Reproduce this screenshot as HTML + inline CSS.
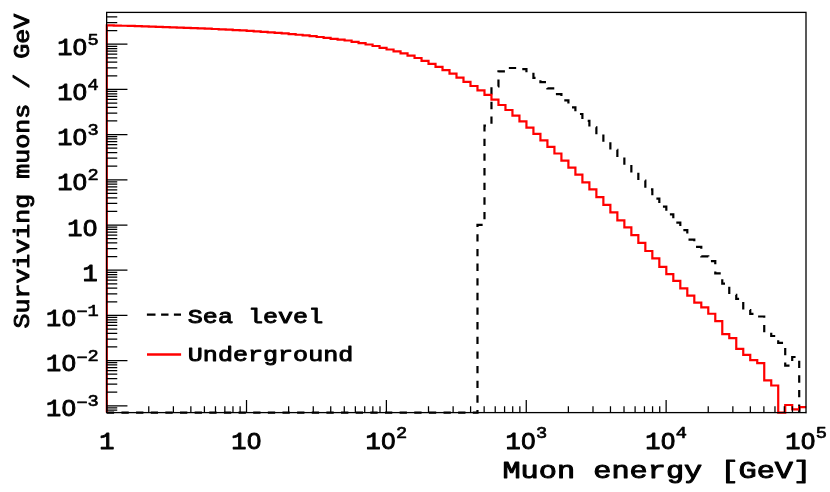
<!DOCTYPE html>
<html><head><meta charset="utf-8"><title>Muon energy spectrum</title>
<style>
html,body{margin:0;padding:0;background:#fff;}
body{width:830px;height:492px;overflow:hidden;}
svg{display:block;}
text{font-family:"Liberation Mono",monospace;font-weight:normal;fill:#000;stroke:#000;stroke-linejoin:round;vector-effect:non-scaling-stroke;}
#w{will-change:transform;width:830px;height:492px;}
</style></head><body>
<div id="w"><svg width="830" height="492" viewBox="0 0 830 492">
<rect x="0" y="0" width="830" height="492" fill="#fff"/>
<path d="M106.80,412.60L106.80,412.60L113.79,412.60L113.79,412.60L120.79,412.60L120.79,412.60L127.78,412.60L127.78,412.60L134.78,412.60L134.78,412.60L141.77,412.60L141.77,412.60L148.76,412.60L148.76,412.60L155.76,412.60L155.76,412.60L162.75,412.60L162.75,412.60L169.75,412.60L169.75,412.60L176.74,412.60L176.74,412.60L183.73,412.60L183.73,412.60L190.73,412.60L190.73,412.60L197.72,412.60L197.72,412.60L204.72,412.60L204.72,412.60L211.71,412.60L211.71,412.60L218.70,412.60L218.70,412.60L225.70,412.60L225.70,412.60L232.69,412.60L232.69,412.60L239.69,412.60L239.69,412.60L246.68,412.60L246.68,412.60L253.67,412.60L253.67,412.60L260.67,412.60L260.67,412.60L267.66,412.60L267.66,412.60L274.66,412.60L274.66,412.60L281.65,412.60L281.65,412.60L288.64,412.60L288.64,412.60L295.64,412.60L295.64,412.60L302.63,412.60L302.63,412.60L309.63,412.60L309.63,412.60L316.62,412.60L316.62,412.60L323.61,412.60L323.61,412.60L330.61,412.60L330.61,412.60L337.60,412.60L337.60,412.60L344.60,412.60L344.60,412.60L351.59,412.60L351.59,412.60L358.58,412.60L358.58,412.60L365.58,412.60L365.58,412.60L372.57,412.60L372.57,412.60L379.57,412.60L379.57,412.60L386.56,412.60L386.56,412.60L393.55,412.60L393.55,412.60L400.55,412.60L400.55,412.60L407.54,412.60L407.54,412.60L414.54,412.60L414.54,412.60L421.53,412.60L421.53,412.60L428.52,412.60L428.52,412.60L435.52,412.60L435.52,412.60L442.51,412.60L442.51,412.60L449.51,412.60L449.51,412.60L456.50,412.60L456.50,412.60L463.49,412.60L463.49,412.60L470.49,412.60L470.49,412.60L477.48,412.60L477.48,224.80L484.48,224.80L484.48,125.60L491.47,125.60L491.47,86.40L498.46,86.40L498.46,71.40L505.46,71.40L505.46,68.00L512.45,68.00L512.45,68.00L519.45,68.00L519.45,69.20L526.44,69.20L526.44,72.50L533.43,72.50L533.43,77.90L540.43,77.90L540.43,82.10L547.42,82.10L547.42,88.45L554.42,88.45L554.42,94.15L561.41,94.15L561.41,100.40L568.40,100.40L568.40,107.30L575.40,107.30L575.40,114.00L582.39,114.00L582.39,120.90L589.39,120.90L589.39,127.30L596.38,127.30L596.38,134.25L603.37,134.25L603.37,141.90L610.37,141.90L610.37,149.85L617.36,149.85L617.36,157.40L624.36,157.40L624.36,164.90L631.35,164.90L631.35,172.70L638.34,172.70L638.34,180.60L645.34,180.60L645.34,189.40L652.33,189.40L652.33,198.60L659.33,198.60L659.33,206.70L666.32,206.70L666.32,214.40L673.31,214.40L673.31,222.60L680.31,222.60L680.31,230.20L687.30,230.20L687.30,239.70L694.30,239.70L694.30,246.80L701.29,246.80L701.29,256.40L708.28,256.40L708.28,261.20L715.28,261.20L715.28,273.35L722.27,273.35L722.27,283.70L729.27,283.70L729.27,294.90L736.26,294.90L736.26,298.90L743.25,298.90L743.25,310.10L750.25,310.10L750.25,313.80L757.24,313.80L757.24,316.50L764.24,316.50L764.24,332.50L771.23,332.50L771.23,336.00L778.22,336.00L778.22,342.80L785.22,342.80L785.22,365.60L792.21,365.60L792.21,357.00L799.21,357.00L799.21,412.60L806.20,412.60" fill="none" stroke="#000" stroke-width="2.2" stroke-dasharray="7.32 7.32" stroke-linejoin="miter"/>
<path d="M106.80,412.60L106.80,25.37L113.79,25.37L113.79,25.56L120.79,25.56L120.79,25.76L127.78,25.76L127.78,25.96L134.78,25.96L134.78,26.17L141.77,26.17L141.77,26.38L148.76,26.38L148.76,26.60L155.76,26.60L155.76,26.83L162.75,26.83L162.75,27.06L169.75,27.06L169.75,27.31L176.74,27.31L176.74,27.56L183.73,27.56L183.73,27.82L190.73,27.82L190.73,28.10L197.72,28.10L197.72,28.38L204.72,28.38L204.72,28.68L211.71,28.68L211.71,29.00L218.70,29.00L218.70,29.34L225.70,29.34L225.70,29.69L232.69,29.69L232.69,30.06L239.69,30.06L239.69,30.46L246.68,30.46L246.68,30.88L253.67,30.88L253.67,31.33L260.67,31.33L260.67,31.81L267.66,31.81L267.66,32.32L274.66,32.32L274.66,32.87L281.65,32.87L281.65,33.45L288.64,33.45L288.64,34.07L295.64,34.07L295.64,34.73L302.63,34.73L302.63,35.44L309.63,35.44L309.63,36.19L316.62,36.19L316.62,37.00L323.61,37.00L323.61,37.86L330.61,37.86L330.61,38.78L337.60,38.78L337.60,39.70L344.60,39.70L344.60,40.50L351.59,40.50L351.59,41.90L358.58,41.90L358.58,43.10L365.58,43.10L365.58,44.50L372.57,44.50L372.57,46.00L379.57,46.00L379.57,47.80L386.56,47.80L386.56,49.50L393.55,49.50L393.55,51.40L400.55,51.40L400.55,53.40L407.54,53.40L407.54,55.70L414.54,55.70L414.54,58.00L421.53,58.00L421.53,60.80L428.52,60.80L428.52,63.80L435.52,63.80L435.52,66.80L442.51,66.80L442.51,70.10L449.51,70.10L449.51,73.60L456.50,73.60L456.50,77.60L463.49,77.60L463.49,81.80L470.49,81.80L470.49,86.00L477.48,86.00L477.48,90.30L484.48,90.30L484.48,94.90L491.47,94.90L491.47,99.60L498.46,99.60L498.46,105.00L505.46,105.00L505.46,110.00L512.45,110.00L512.45,115.60L519.45,115.60L519.45,121.30L526.44,121.30L526.44,127.60L533.43,127.60L533.43,133.90L540.43,133.90L540.43,140.30L547.42,140.30L547.42,146.80L554.42,146.80L554.42,153.50L561.41,153.50L561.41,160.70L568.40,160.70L568.40,167.70L575.40,167.70L575.40,174.70L582.39,174.70L582.39,182.30L589.39,182.30L589.39,189.45L596.38,189.45L596.38,197.10L603.37,197.10L603.37,204.80L610.37,204.80L610.37,212.40L617.36,212.40L617.36,220.40L624.36,220.40L624.36,227.45L631.35,227.45L631.35,235.15L638.34,235.15L638.34,242.80L645.34,242.80L645.34,251.00L652.33,251.00L652.33,258.40L659.33,258.40L659.33,266.85L666.32,266.85L666.32,274.05L673.31,274.05L673.31,280.80L680.31,280.80L680.31,288.40L687.30,288.40L687.30,295.60L694.30,295.60L694.30,302.60L701.29,302.60L701.29,307.45L708.28,307.45L708.28,313.75L715.28,313.75L715.28,321.10L722.27,321.10L722.27,334.10L729.27,334.10L729.27,338.10L736.26,338.10L736.26,348.80L743.25,348.80L743.25,354.95L750.25,354.95L750.25,360.10L757.24,360.10L757.24,363.15L764.24,363.15L764.24,380.40L771.23,380.40L771.23,385.50L778.22,385.50L778.22,412.60L785.22,412.60L785.22,405.00L792.21,405.00L792.21,409.45L799.21,409.45L799.21,407.20L806.20,407.20" fill="none" stroke="#f00" stroke-width="2.2" stroke-linejoin="miter"/>
<rect x="106.65" y="12.4" width="699.35" height="400.20000000000005" fill="none" stroke="#000" stroke-width="1.3"/>
<path d="M106.65,412.6V400.10M148.76,412.6V406.30M173.38,412.6V406.30M190.86,412.6V406.30M204.41,412.6V406.30M215.49,412.6V406.30M224.85,412.6V406.30M232.97,412.6V406.30M240.12,412.6V406.30M246.52,412.6V400.10M288.63,412.6V406.30M313.25,412.6V406.30M330.73,412.6V406.30M344.28,412.6V406.30M355.36,412.6V406.30M364.72,412.6V406.30M372.84,412.6V406.30M379.99,412.6V406.30M386.39,412.6V400.10M428.50,412.6V406.30M453.12,412.6V406.30M470.60,412.6V406.30M484.15,412.6V406.30M495.23,412.6V406.30M504.59,412.6V406.30M512.71,412.6V406.30M519.86,412.6V406.30M526.26,412.6V400.10M568.37,412.6V406.30M592.99,412.6V406.30M610.47,412.6V406.30M624.02,412.6V406.30M635.10,412.6V406.30M644.46,412.6V406.30M652.58,412.6V406.30M659.73,412.6V406.30M666.13,412.6V400.10M708.24,412.6V406.30M732.86,412.6V406.30M750.34,412.6V406.30M763.89,412.6V406.30M774.97,412.6V406.30M784.33,412.6V406.30M792.45,412.6V406.30M799.60,412.6V406.30M106.65,405.80H127.45M106.65,360.60H127.45M106.65,315.40H127.45M106.65,270.20H127.45M106.65,225.00H127.45M106.65,179.80H127.45M106.65,134.60H127.45M106.65,89.40H127.45M106.65,44.20H127.45M106.65,410.18H117.25M106.65,407.87H117.25M106.65,392.19H117.25M106.65,384.23H117.25M106.65,378.59H117.25M106.65,374.21H117.25M106.65,370.63H117.25M106.65,367.60H117.25M106.65,364.98H117.25M106.65,362.67H117.25M106.65,346.99H117.25M106.65,339.03H117.25M106.65,333.39H117.25M106.65,329.01H117.25M106.65,325.43H117.25M106.65,322.40H117.25M106.65,319.78H117.25M106.65,317.47H117.25M106.65,301.79H117.25M106.65,293.83H117.25M106.65,288.19H117.25M106.65,283.81H117.25M106.65,280.23H117.25M106.65,277.20H117.25M106.65,274.58H117.25M106.65,272.27H117.25M106.65,256.59H117.25M106.65,248.63H117.25M106.65,242.99H117.25M106.65,238.61H117.25M106.65,235.03H117.25M106.65,232.00H117.25M106.65,229.38H117.25M106.65,227.07H117.25M106.65,211.39H117.25M106.65,203.43H117.25M106.65,197.79H117.25M106.65,193.41H117.25M106.65,189.83H117.25M106.65,186.80H117.25M106.65,184.18H117.25M106.65,181.87H117.25M106.65,166.19H117.25M106.65,158.23H117.25M106.65,152.59H117.25M106.65,148.21H117.25M106.65,144.63H117.25M106.65,141.60H117.25M106.65,138.98H117.25M106.65,136.67H117.25M106.65,120.99H117.25M106.65,113.03H117.25M106.65,107.39H117.25M106.65,103.01H117.25M106.65,99.43H117.25M106.65,96.40H117.25M106.65,93.78H117.25M106.65,91.47H117.25M106.65,75.79H117.25M106.65,67.83H117.25M106.65,62.19H117.25M106.65,57.81H117.25M106.65,54.23H117.25M106.65,51.20H117.25M106.65,48.58H117.25M106.65,46.27H117.25M106.65,30.59H117.25M106.65,22.63H117.25M106.65,16.99H117.25" fill="none" stroke="#000" stroke-width="1.25"/>
<g class="t" style="opacity:0.999">
<text transform="translate(45.95,416.40) scale(1.0750,1)" font-size="23.61" stroke-width="0.95">10</text>
<text transform="translate(76.40,407.80) scale(1.0881,1)" font-size="17.16" stroke-width="0.7">−</text>
<text transform="translate(87.60,406.20) scale(1.0881,1)" font-size="17.16" stroke-width="0.7">3</text>
<text transform="translate(45.95,371.20) scale(1.0750,1)" font-size="23.61" stroke-width="0.95">10</text>
<text transform="translate(76.40,362.60) scale(1.0881,1)" font-size="17.16" stroke-width="0.7">−</text>
<text transform="translate(87.60,361.00) scale(1.0881,1)" font-size="17.16" stroke-width="0.7">2</text>
<text transform="translate(45.95,326.00) scale(1.0750,1)" font-size="23.61" stroke-width="0.95">10</text>
<text transform="translate(76.40,317.40) scale(1.0881,1)" font-size="17.16" stroke-width="0.7">−</text>
<text transform="translate(87.60,315.80) scale(1.0881,1)" font-size="17.16" stroke-width="0.7">1</text>
<text transform="translate(82.47,281.30) scale(1.0750,1)" font-size="23.61" stroke-width="0.95">1</text>
<text transform="translate(67.25,236.10) scale(1.0750,1)" font-size="23.61" stroke-width="0.95">10</text>
<text transform="translate(57.15,190.40) scale(1.0750,1)" font-size="23.61" stroke-width="0.95">10</text>
<text transform="translate(87.60,180.20) scale(1.0881,1)" font-size="17.16" stroke-width="0.7">2</text>
<text transform="translate(57.15,145.20) scale(1.0750,1)" font-size="23.61" stroke-width="0.95">10</text>
<text transform="translate(87.60,135.00) scale(1.0881,1)" font-size="17.16" stroke-width="0.7">3</text>
<text transform="translate(57.15,100.00) scale(1.0750,1)" font-size="23.61" stroke-width="0.95">10</text>
<text transform="translate(87.60,89.80) scale(1.0881,1)" font-size="17.16" stroke-width="0.7">4</text>
<text transform="translate(57.15,54.80) scale(1.0750,1)" font-size="23.61" stroke-width="0.95">10</text>
<text transform="translate(87.60,44.60) scale(1.0881,1)" font-size="17.16" stroke-width="0.7">5</text>
<text transform="translate(99.34,448.60) scale(1.0750,1)" font-size="23.61" stroke-width="0.95">1</text>
<text transform="translate(231.29,448.60) scale(1.0750,1)" font-size="23.61" stroke-width="0.95">10</text>
<text transform="translate(365.56,448.60) scale(1.0750,1)" font-size="23.61" stroke-width="0.95">10</text>
<text transform="translate(396.02,438.40) scale(1.0881,1)" font-size="17.16" stroke-width="0.7">2</text>
<text transform="translate(505.43,448.60) scale(1.0750,1)" font-size="23.61" stroke-width="0.95">10</text>
<text transform="translate(535.89,438.40) scale(1.0881,1)" font-size="17.16" stroke-width="0.7">3</text>
<text transform="translate(645.30,448.60) scale(1.0750,1)" font-size="23.61" stroke-width="0.95">10</text>
<text transform="translate(675.76,438.40) scale(1.0881,1)" font-size="17.16" stroke-width="0.7">4</text>
<text transform="translate(785.17,448.60) scale(1.0750,1)" font-size="23.61" stroke-width="0.95">10</text>
<text transform="translate(815.63,438.40) scale(1.0881,1)" font-size="17.16" stroke-width="0.7">5</text>
<text transform="translate(502.40,478.20) scale(1.2787,1)" font-size="23.68" stroke-width="1.1">Muon energy [GeV]</text>
<text transform="translate(29.30,328.60) rotate(-90) scale(1.1436,1)" font-size="21.86" stroke-width="1.0">Surviving muons / GeV</text>
<text transform="translate(187.80,322.90) scale(1.2517,1)" font-size="20.04" stroke-width="1.0">Sea level</text>
<text transform="translate(187.80,360.50) scale(1.2517,1)" font-size="20.04" stroke-width="1.0">Underground</text>
<rect x="65.92" y="404.93" width="5.71" height="7.27" fill="#fff"/>
<rect x="65.92" y="359.73" width="5.71" height="7.27" fill="#fff"/>
<rect x="65.92" y="314.53" width="5.71" height="7.27" fill="#fff"/>
<rect x="87.22" y="224.63" width="5.71" height="7.27" fill="#fff"/>
<rect x="77.12" y="178.93" width="5.71" height="7.27" fill="#fff"/>
<rect x="77.12" y="133.73" width="5.71" height="7.27" fill="#fff"/>
<rect x="77.12" y="88.53" width="5.71" height="7.27" fill="#fff"/>
<rect x="77.12" y="43.33" width="5.71" height="7.27" fill="#fff"/>
<rect x="251.27" y="437.13" width="5.71" height="7.27" fill="#fff"/>
<rect x="385.54" y="437.13" width="5.71" height="7.27" fill="#fff"/>
<rect x="525.41" y="437.13" width="5.71" height="7.27" fill="#fff"/>
<rect x="665.28" y="437.13" width="5.71" height="7.27" fill="#fff"/>
<rect x="805.15" y="437.13" width="5.71" height="7.27" fill="#fff"/>
</g>
<path d="M146.9,314.55H155.5M161.1,314.55H168.5M173.9,314.55H181.0" stroke="#000" stroke-width="2.3" fill="none"/>
<path d="M147.0,354.55H181.1" stroke="#f00" stroke-width="2.4" fill="none"/>
</svg></div></body></html>
